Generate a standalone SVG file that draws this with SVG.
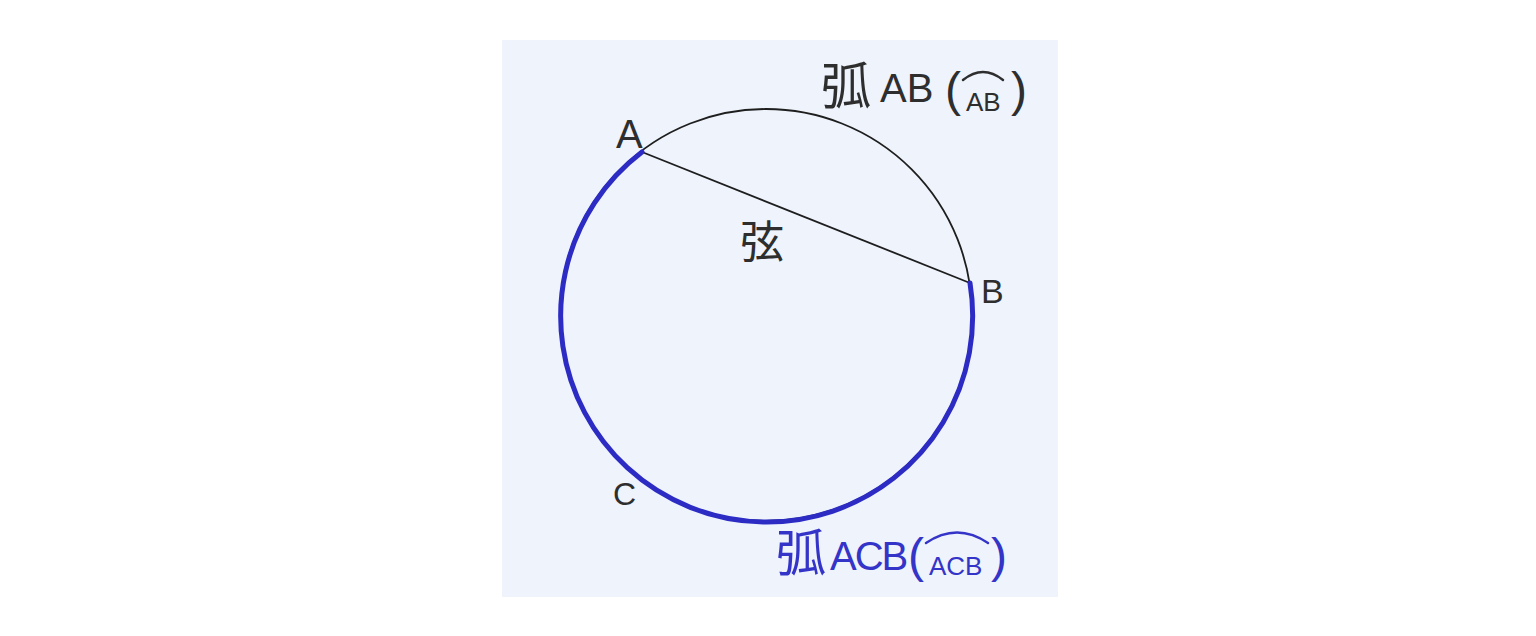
<svg xmlns="http://www.w3.org/2000/svg" width="1536" height="636" viewBox="0 0 1536 636">
<style>
.ink{fill:#2e2e2e;font-family:"Liberation Sans","Noto Sans CJK JP",sans-serif}
.blue{fill:#3434c8;font-family:"Liberation Sans","Noto Sans CJK JP",sans-serif}
.cjk{font-family:"Noto Sans CJK JP",sans-serif}
</style>
<rect width="1536" height="636" fill="#ffffff"/>
<rect x="502" y="40" width="556" height="557" fill="#eef3fc"/>
<g id="connectors">
<circle cx="766" cy="315" r="206" fill="none" stroke="#1e1e1e" stroke-width="1.8"/>
<line x1="642" y1="152" x2="970" y2="283" stroke="#1e1e1e" stroke-width="1.8"/>
<path d="M642 152 A206 206 0 1 0 970 283" fill="none" stroke="#2c2cc4" stroke-width="5" stroke-linecap="round"/>
</g>
<g id="label-A"><text class="ink" x="616" y="148" font-size="40">A</text></g>
<g id="label-B"><text class="ink" x="981" y="303" font-size="34">B</text></g>
<g id="label-C"><text class="ink" x="613" y="505" font-size="32">C</text></g>
<g id="label-chord"><text class="ink cjk" x="740" y="258" font-size="44">弦</text></g>
<g id="label-arcAB">
<text class="ink cjk" x="821" y="104" font-size="50">弧</text>
<text class="ink" x="880" y="102" font-size="40">AB</text>
<text class="ink" x="945" y="106" font-size="48">(</text>
<text class="ink" x="966" y="111" font-size="26">AB</text>
<path d="M963 80 Q983 64 1003 80" fill="none" stroke="#2e2e2e" stroke-width="2.5" stroke-linecap="round"/>
<text class="ink" x="1011" y="106" font-size="48">)</text>
</g>
<g id="label-arcACB">
<text class="blue cjk" x="776" y="571" font-size="50">弧</text>
<text class="blue" x="830" y="570" font-size="40" letter-spacing="-2">ACB</text>
<text class="blue" x="908" y="572" font-size="48">(</text>
<text class="blue" x="929" y="575" font-size="26">ACB</text>
<path d="M926 543 Q957 522 988 543" fill="none" stroke="#3434c8" stroke-width="2.5" stroke-linecap="round"/>
<text class="blue" x="991" y="572" font-size="48">)</text>
</g>
</svg>
